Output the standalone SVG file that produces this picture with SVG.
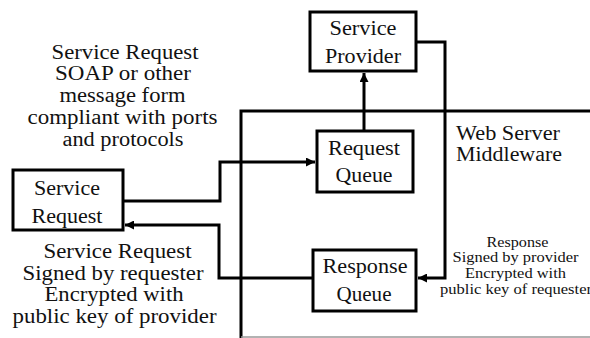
<svg xmlns="http://www.w3.org/2000/svg" width="590" height="338" viewBox="0 0 590 338">
<style>
.t{font-family:"Liberation Serif","Times New Roman",serif;fill:#111;}
.b{font-size:20px;text-anchor:middle;}
.l{font-size:20px;text-anchor:middle;}
.s{font-size:14.5px;text-anchor:middle;}
.box{fill:#fff;stroke:#000;stroke-width:3;}
.ln{fill:none;stroke:#000;stroke-width:3;}
</style>
<defs>
<marker id="ah" viewBox="0 0 10 10" refX="10" refY="5" markerWidth="3" markerHeight="3" orient="auto" markerUnits="strokeWidth">
<path d="M0,0 L10,5 L0,10 z" fill="#000"/>
</marker>
</defs>
<rect width="590" height="338" fill="#fff"/>
<g id="middleware" class="t">
<path d="M241,338 V111 H590" class="ln"/>
<line x1="241" y1="337" x2="590" y2="337" stroke="#999" stroke-width="1.5"/>
<text x="456" y="140" font-size="20" textLength="104" lengthAdjust="spacingAndGlyphs">Web Server</text>
<text x="456" y="161" font-size="20" textLength="106" lengthAdjust="spacingAndGlyphs">Middleware</text>
</g>
<g id="connectors">
<path d="M123,201 H220 V162 H315" class="ln" marker-end="url(#ah)"/>
<path d="M364,131 V73" class="ln" marker-end="url(#ah)"/>
<path d="M416,42 H445 V278 H418" class="ln" marker-end="url(#ah)"/>
<path d="M313,278 H219 V225 H125" class="ln" marker-end="url(#ah)"/>
</g>
<g id="service-provider" class="t">
<rect x="310" y="12" width="106" height="59" class="box"/>
<text x="363" y="35" class="b" textLength="67" lengthAdjust="spacingAndGlyphs">Service</text>
<text x="363" y="63" class="b" textLength="76" lengthAdjust="spacingAndGlyphs">Provider</text>
</g>
<g id="request-queue" class="t">
<rect x="317" y="131" width="96" height="61" class="box"/>
<text x="364" y="155" class="b" textLength="72" lengthAdjust="spacingAndGlyphs">Request</text>
<text x="364" y="182" class="b" textLength="57" lengthAdjust="spacingAndGlyphs">Queue</text>
</g>
<g id="response-queue" class="t">
<rect x="313" y="250" width="103" height="61" class="box"/>
<text x="365" y="273" class="b" textLength="85" lengthAdjust="spacingAndGlyphs">Response</text>
<text x="364" y="301" class="b" textLength="55" lengthAdjust="spacingAndGlyphs">Queue</text>
</g>
<g id="service-request" class="t">
<rect x="13" y="170" width="110" height="60" class="box"/>
<text x="67" y="195" class="b" textLength="66" lengthAdjust="spacingAndGlyphs">Service</text>
<text x="67" y="223" class="b" textLength="71" lengthAdjust="spacingAndGlyphs">Request</text>
</g>
<g id="label-request" class="t">
<text x="125" y="58.5" class="l" textLength="147" lengthAdjust="spacingAndGlyphs">Service Request</text>
<text x="123" y="80" class="l" textLength="136" lengthAdjust="spacingAndGlyphs">SOAP or other</text>
<text x="122.5" y="102" class="l" textLength="126" lengthAdjust="spacingAndGlyphs">message form</text>
<text x="122.5" y="124" class="l" textLength="190" lengthAdjust="spacingAndGlyphs">compliant with ports</text>
<text x="123" y="146" class="l" textLength="121" lengthAdjust="spacingAndGlyphs">and protocols</text>
</g>
<g id="label-signed" class="t">
<text x="117.5" y="257.5" class="l" textLength="148" lengthAdjust="spacingAndGlyphs">Service Request</text>
<text x="113" y="279.5" class="l" textLength="181" lengthAdjust="spacingAndGlyphs">Signed by requester</text>
<text x="114" y="301" class="l" textLength="139" lengthAdjust="spacingAndGlyphs">Encrypted with</text>
<text x="114.5" y="322.5" class="l" textLength="204" lengthAdjust="spacingAndGlyphs">public key of provider</text>
</g>
<g id="label-response" class="t">
<text x="517.5" y="247" class="s" textLength="62" lengthAdjust="spacingAndGlyphs">Response</text>
<text x="515.5" y="262" class="s" textLength="126" lengthAdjust="spacingAndGlyphs">Signed by provider</text>
<text x="515.5" y="278" class="s" textLength="101" lengthAdjust="spacingAndGlyphs">Encrypted with</text>
<text x="440" y="294" font-size="14.5" textLength="152" lengthAdjust="spacingAndGlyphs">public key  of requester</text>
</g>
</svg>
